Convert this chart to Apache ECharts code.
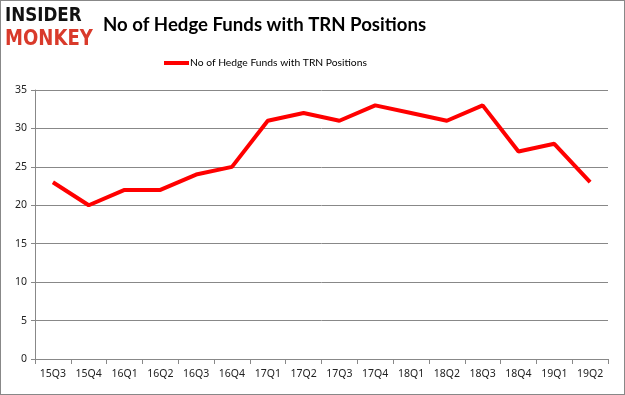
<!DOCTYPE html>
<html><head><meta charset="utf-8">
<script src="https://cdn.jsdelivr.net/npm/echarts@6/dist/echarts.min.js"></script>
<style>html,body{margin:0;padding:0;background:#fff}#c{width:625px;height:395px;box-sizing:border-box;border:1px solid #888}</style>
</head><body><div id="c"></div>
<script>
const categories = ['15Q3','15Q4','16Q1','16Q2','16Q3','16Q4','17Q1','17Q2','17Q3','17Q4','18Q1','18Q2','18Q3','18Q4','19Q1','19Q2'];
const values = [23,20,22,22,24,25,31,32,31,33,32,31,33,27,28,23];
const seriesName = 'No of Hedge Funds with TRN Positions';
const titleText = 'No of Hedge Funds with TRN Positions';

const chart = echarts.init(document.getElementById('c'));
chart.setOption({
  animation: false,
  title: {text: titleText, left: 102, top: 14, padding: 0,
    textStyle: {fontFamily: 'Lato', fontWeight: 'bold', fontSize: 18.6, color: '#000'}},
  legend: {data: [seriesName], top: 52, left: 158, itemWidth: 25, itemHeight: 4, itemGap: 2,
    icon: 'rect',
    textStyle: {fontFamily: 'Lato', fontSize: 10.3, color: '#000', padding: [0,0,0,-4]}},
  graphic: [
    {type: 'text', left: 4, top: 6, scaleX: 0.88, style: {text: 'INSIDER', fill: '#111', font: 'bold 19px "DejaVu Sans"'}},
    {type: 'text', left: 4, top: 28, scaleX: 0.86, style: {text: 'MONKEY', fill: '#d93a2b', font: 'bold 21px "DejaVu Sans"'}}
  ],
  grid: {left: 34, right: 16, top: 89, bottom: 35},
  xAxis: {type: 'category', data: categories, boundaryGap: true,
    axisLine: {lineStyle: {color: '#888'}},
    axisTick: {show: true, alignWithLabel: false, length: 5, lineStyle: {color: '#888'}},
    axisLabel: {interval: 0, fontFamily: 'Noto Sans', fontSize: 10.5, color: '#222', margin: 10}},
  yAxis: {type: 'value', min: 0, max: 35, interval: 5,
    axisLine: {show: true, lineStyle: {color: '#888'}},
    axisTick: {show: true, length: 4, lineStyle: {color: '#888'}},
    splitLine: {lineStyle: {color: '#888'}},
    axisLabel: {fontFamily: 'Noto Sans', fontSize: 10.5, color: '#222', margin: 8}},
  series: [{name: seriesName, type: 'line', data: values, showSymbol: false, symbol: 'none',
    lineStyle: {color: '#ff0000', width: 4}, itemStyle: {color: '#ff0000'}}]
});
</script></body></html>
